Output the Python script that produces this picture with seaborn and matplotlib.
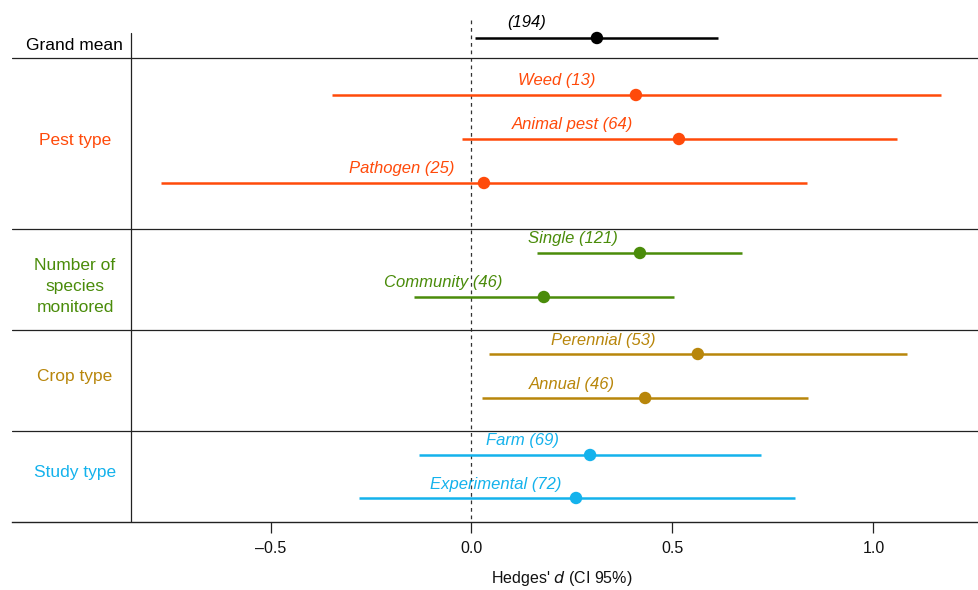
import matplotlib
matplotlib.use("Agg")
import matplotlib.pyplot as plt
import seaborn as sns
import pandas as pd
import numpy as np

# ---- data ----
labels = ["(194)", "Weed (13)", "Animal pest (64)", "Pathogen (25)",
          "Single (121)", "Community (46)", "Perennial (53)", "Annual (46)",
          "Farm (69)", "Experimental (72)"]
groups = ["Grand mean", "Pest type", "Pest type", "Pest type",
          "Number of\nspecies\nmonitored", "Number of\nspecies\nmonitored",
          "Crop type", "Crop type", "Study type", "Study type"]
estimate = [0.312, 0.409, 0.516, 0.031, 0.419, 0.180, 0.563, 0.432, 0.295, 0.260]
ci_low = [0.009, -0.347, -0.024, -0.772, 0.163, -0.143, 0.044, 0.026, -0.131, -0.280]
ci_high = [0.613, 1.168, 1.058, 0.835, 0.673, 0.504, 1.083, 0.837, 0.720, 0.805]
tick_values = [-0.5, 0.0, 0.5, 1.0]
tick_labels = ["\u20130.5", "0.0", "0.5", "1.0"]

# ---- layout (row positions, label offsets) ----
row_y = [38, 95, 139, 183, 253, 297, 354, 398, 455, 498]
label_x = [0.138, 0.213, 0.252, -0.173, 0.252, -0.071, 0.327, 0.250, 0.126, 0.059]
separators = [58, 229, 330, 431]
group_label_y = {"Grand mean": 45, "Pest type": 140,
                 "Number of\nspecies\nmonitored": 287,
                 "Crop type": 376, "Study type": 473}
palette = {"Grand mean": "#000000", "Pest type": "#FF4A0A",
           "Number of\nspecies\nmonitored": "#4A8C0A",
           "Crop type": "#B8860B", "Study type": "#14B2EC"}

df = pd.DataFrame({"label": labels, "group": groups, "est": estimate,
                   "lo": ci_low, "hi": ci_high, "y": row_y, "lx": label_x})

sns.set_theme(style="white")
plt.rcParams["font.family"] = ["Liberation Sans", "DejaVu Sans"]

W, H = 979, 590
fig = plt.figure(figsize=(W / 100, H / 100), dpi=100)
x0_px, x1_px = 12, 979
y_top, y_bot = 0, 522
ax = fig.add_axes([x0_px / W, (H - y_bot) / H, (x1_px - x0_px) / W, (y_bot - y_top) / H])

zero_px, per_unit = 471.5, 402.0
xmin = (x0_px - zero_px) / per_unit
xmax = (x1_px - zero_px) / per_unit
ax.set_xlim(xmin, xmax)
ax.set_ylim(y_bot, y_top)

# CI lines and labels
for _, r in df.iterrows():
    ax.hlines(r["y"], r["lo"], r["hi"], color=palette[r["group"]], lw=1.8, zorder=2)
    off = 16 if r["group"] == "Grand mean" else 14
    ax.text(r["lx"], r["y"] - off, r["label"], color=palette[r["group"]],
            ha="center", va="center", fontsize=12, style="italic")

sns.scatterplot(data=df, x="est", y="y", hue="group", palette=palette,
                s=80, edgecolor="none", legend=False, ax=ax, zorder=3)

# zero line
ax.plot([0, 0], [20, y_bot], ls=(0, (3, 3)), color="#333333", lw=0.9, zorder=1)

# separators
for s in separators:
    ax.axhline(s, color="#222222", lw=0.9, zorder=1)
sep_x = (131 - zero_px) / per_unit
ax.plot([sep_x, sep_x], [33, y_bot], color="#222222", lw=0.9, zorder=1)

# group labels
for g, gy in group_label_y.items():
    if g == "Grand mean":
        ax.text(sep_x - 0.02, gy, g, color=palette[g], ha="right", va="center",
                fontsize=12.5)
    else:
        ax.text((75 - zero_px) / per_unit, gy, g, color=palette[g], ha="center",
                va="center", fontsize=12.5, linespacing=1.5)

for sp in ["top", "right", "left"]:
    ax.spines[sp].set_visible(False)
ax.spines["bottom"].set_color("#222222")
ax.spines["bottom"].set_linewidth(1.0)
ax.set_yticks([])
ax.set_xticks(tick_values)
ax.set_xticklabels(tick_labels, fontsize=11.5, color="#111111")
ax.tick_params(axis="x", direction="out", length=8, width=0.9, color="#222222",
               bottom=True, pad=6)
ax.set_xlabel("Hedges' $\\it{d}$ (CI 95%)", fontsize=11.5, color="#111111")
ax.xaxis.set_label_coords((562 - x0_px) / (x1_px - x0_px), -(578 - y_bot) / (y_bot - y_top))
ax.xaxis.label.set_va("center")
ax.set_ylabel("")

fig.savefig("out.png", dpi=100)
